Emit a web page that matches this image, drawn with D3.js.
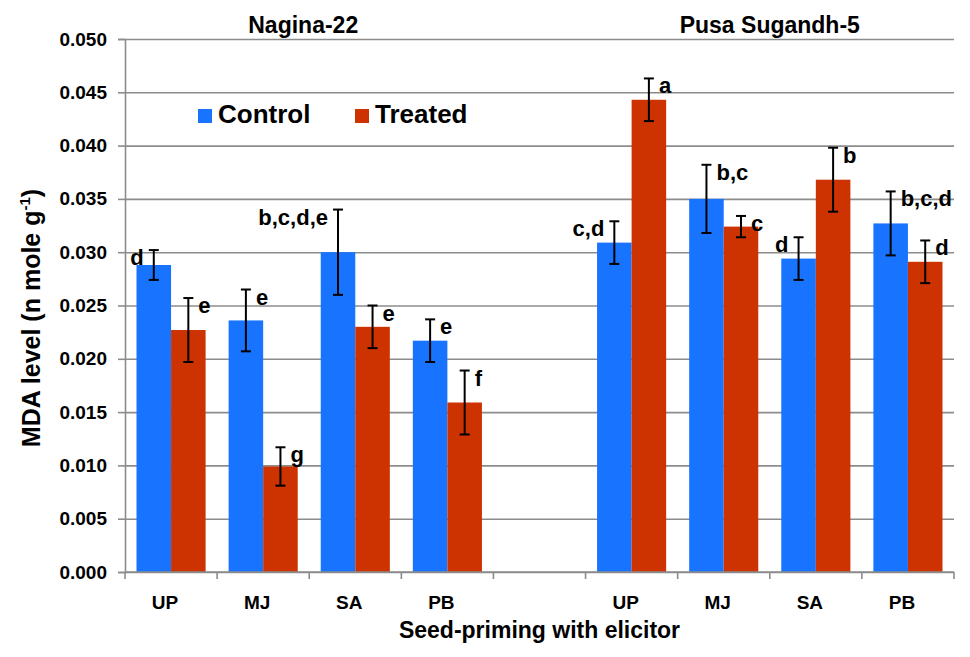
<!DOCTYPE html>
<html>
<head>
<meta charset="utf-8">
<script src="https://cdn.jsdelivr.net/npm/d3@7"></script>
<style>
  body { margin: 0; background: #fff; }
  svg text { font-family: "Liberation Sans", Arial, sans-serif; font-weight: bold; fill: #000; }
</style>
</head>
<body>
<div id="chart"></div>
<script>
// Chart data
const varieties = ['Nagina-22', 'Pusa Sugandh-5'];
const categories = ['UP', 'MJ', 'SA', 'PB'];
const series = ['Control', 'Treated'];

const controlN22 = [0.0288, 0.0236, 0.0300, 0.0217];
const treatedN22 = [0.0227, 0.0099, 0.0230, 0.0159];
const controlPS5 = [0.0309, 0.0350, 0.0294, 0.0327];
const treatedPS5 = [0.0443, 0.0324, 0.0368, 0.0291];

const controlN22Err = [0.0014, 0.0029, 0.0040, 0.0020];
const treatedN22Err = [0.0030, 0.0018, 0.0020, 0.0030];
const controlPS5Err = [0.0020, 0.0032, 0.0020, 0.0030];
const treatedPS5Err = [0.0020, 0.0010, 0.0030, 0.0020];

const controlN22Sig = ['d', 'e', 'b,c,d,e', 'e'];
const treatedN22Sig = ['e', 'g', 'e', 'f'];
const controlPS5Sig = ['c,d', 'b,c', 'd', 'b,c,d'];
const treatedPS5Sig = ['a', 'c', 'b', 'd'];

// which side of the error bar the letter sits on
const controlN22Side = ['left', 'right', 'left', 'right'];
const controlPS5Side = ['left', 'right', 'left', 'right'];

const yTicks = [0, 0.005, 0.010, 0.015, 0.020, 0.025, 0.030, 0.035, 0.040, 0.045, 0.050];

const colors = {Control: '#1874FF', Treated: '#CC3300'};

// Build rows: one slot per category, empty slot between varieties
const slots = [];
const rows = [];
const sets = [
    {key: 'N22', c: controlN22, t: treatedN22, ce: controlN22Err, te: treatedN22Err,
     cs: controlN22Sig, ts: treatedN22Sig, side: controlN22Side},
    {key: 'PS5', c: controlPS5, t: treatedPS5, ce: controlPS5Err, te: treatedPS5Err,
     cs: controlPS5Sig, ts: treatedPS5Sig, side: controlPS5Side}
];
sets.forEach((s, vi) => {
    if (vi > 0) slots.push('gap');
    categories.forEach((cat, i) => {
        const slot = s.key + '-' + cat;
        slots.push(slot);
        rows.push({slot, cat, variety: varieties[vi], series: 'Control', value: s.c[i], err: s.ce[i], sig: s.cs[i], side: s.side[i]});
        rows.push({slot, cat, variety: varieties[vi], series: 'Treated', value: s.t[i], err: s.te[i], sig: s.ts[i], side: 'right'});
    });
});

const width = 970, height = 657;
const margin = {top: 39, right: 16, bottom: 85, left: 125};

const svg = d3.select('#chart').append('svg')
    .attr('width', width)
    .attr('height', height);

const x = d3.scaleBand()
    .domain(slots)
    .range([margin.left, width - margin.right]);

const xInner = d3.scaleBand()
    .domain(series)
    .range([0, x.bandwidth()])
    .paddingOuter(0.333);

const y = d3.scaleLinear()
    .domain([0, 0.05])
    .range([height - margin.bottom, margin.top]);

// Gridlines + y axis
svg.append('g')
    .attr('transform', `translate(${margin.left},0)`)
    .call(d3.axisLeft(y).tickValues(yTicks).tickFormat(d3.format('.3f'))
        .tickSize(-(width - margin.left - margin.right)).tickPadding(18))
    .call(g => g.select('.domain').remove())
    .call(g => g.selectAll('.tick line').attr('stroke', '#8c8c8c').attr('stroke-width', 1.6))
    .call(g => g.selectAll('.tick text').style('font-size', '19px').attr('fill', '#000'));

// outer tick stubs on y axis
svg.append('g')
    .attr('transform', `translate(${margin.left},0)`)
    .call(d3.axisLeft(y).tickValues(yTicks).tickSize(7).tickFormat(''))
    .call(g => g.select('.domain').attr('stroke', '#8c8c8c').attr('stroke-width', 1.6))
    .call(g => g.selectAll('.tick line').attr('stroke', '#8c8c8c').attr('stroke-width', 1.6));

// Bars
svg.append('g')
    .selectAll('rect')
    .data(rows)
    .enter()
    .append('rect')
    .attr('x', d => x(d.slot) + xInner(d.series))
    .attr('y', d => y(d.value))
    .attr('width', xInner.bandwidth())
    .attr('height', d => y(0) - y(d.value))
    .attr('fill', d => colors[d.series]);

// x axis baseline and tick marks at slot boundaries
const xBase = y(0);
svg.append('line')
    .attr('x1', margin.left).attr('x2', width - margin.right)
    .attr('y1', xBase).attr('y2', xBase)
    .attr('stroke', '#8c8c8c').attr('stroke-width', 1.6);

const bounds = slots.map(s => x(s)).concat([x(slots[slots.length - 1]) + x.bandwidth()]);
svg.append('g')
    .selectAll('line')
    .data(bounds)
    .enter()
    .append('line')
    .attr('x1', d => d).attr('x2', d => d)
    .attr('y1', xBase).attr('y2', xBase + 7)
    .attr('stroke', '#8c8c8c').attr('stroke-width', 1.6);

// Category labels
svg.append('g')
    .selectAll('text')
    .data(slots.filter(s => s !== 'gap'))
    .enter()
    .append('text')
    .attr('x', d => x(d) + x.bandwidth() / 2 - 6)
    .attr('y', xBase + 37)
    .attr('text-anchor', 'middle')
    .style('font-size', '19px')
    .text(d => d.split('-')[1]);

// Error bars
const eb = svg.append('g')
    .selectAll('g')
    .data(rows)
    .enter()
    .append('g')
    .attr('stroke', '#000')
    .attr('stroke-width', 2);
const cx = d => x(d.slot) + xInner(d.series) + xInner.bandwidth() / 2;
eb.append('line')
    .attr('x1', cx).attr('x2', cx)
    .attr('y1', d => y(d.value + d.err)).attr('y2', d => y(d.value - d.err));
eb.append('line')
    .attr('x1', d => cx(d) - 5).attr('x2', d => cx(d) + 5)
    .attr('y1', d => y(d.value + d.err)).attr('y2', d => y(d.value + d.err));
eb.append('line')
    .attr('x1', d => cx(d) - 5).attr('x2', d => cx(d) + 5)
    .attr('y1', d => y(d.value - d.err)).attr('y2', d => y(d.value - d.err));

// Significance letters
svg.append('g')
    .selectAll('text')
    .data(rows)
    .enter()
    .append('text')
    .attr('x', d => d.side === 'left' ? cx(d) - 10 : cx(d) + 10)
    .attr('y', d => y(d.value + d.err) + 15)
    .attr('text-anchor', d => d.side === 'left' ? 'end' : 'start')
    .style('font-size', '22px')
    .text(d => d.sig);

// Variety titles
svg.append('g')
    .selectAll('text')
    .data(sets)
    .enter()
    .append('text')
    .attr('x', (d, i) => {
        const first = x(d.key + '-' + categories[0]);
        const last = x(d.key + '-' + categories[categories.length - 1]) + x.bandwidth();
        return (first + last) / 2 - (i === 0 ? 6 : 0);
    })
    .attr('y', 33)
    .attr('text-anchor', 'middle')
    .style('font-size', '23px')
    .text((d, i) => varieties[i]);

// Legend
const legend = svg.append('g')
    .selectAll('g')
    .data(series)
    .enter()
    .append('g')
    .attr('transform', (d, i) => `translate(${198 + i * 157},109)`);
legend.append('rect')
    .attr('width', 14).attr('height', 14)
    .attr('fill', d => colors[d]);
legend.append('text')
    .attr('x', 20).attr('y', 14)
    .style('font-size', '26px')
    .text(d => d);

// Axis titles
svg.append('text')
    .attr('x', (margin.left + width - margin.right) / 2)
    .attr('y', 638)
    .attr('text-anchor', 'middle')
    .style('font-size', '23px')
    .text('Seed-priming with elicitor');

const yTitle = svg.append('text')
    .attr('transform', `translate(40,318) rotate(-90)`)
    .attr('text-anchor', 'middle')
    .style('font-size', '25px');
yTitle.append('tspan').text('MDA level (n mole g');
yTitle.append('tspan').attr('dy', -10).style('font-size', '15px').text('-1');
yTitle.append('tspan').attr('dy', 10).text(')');
</script>
</body>
</html>
